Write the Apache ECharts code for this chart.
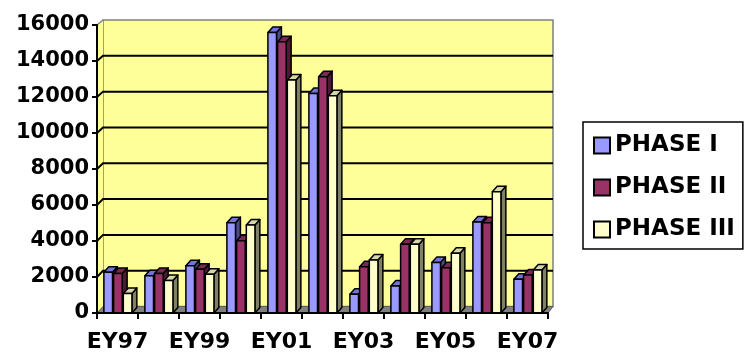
<!DOCTYPE html>
<html>
<head>
<meta charset="utf-8">
<script src="https://cdn.jsdelivr.net/npm/echarts@6/dist/echarts.min.js"></script>
<style>
  html, body { margin: 0; padding: 0; background: #ffffff; }
  #chart { width: 750px; height: 354px; }
</style>
</head>
<body>
<div id="chart"></div>
<script>
// Fiscal years and the three phase totals per year
const years = ['EY97', 'EY98', 'EY99', 'EY00', 'EY01', 'EY02', 'EY03', 'EY04', 'EY05', 'EY06', 'EY07'];
const phase1 = [2260, 2070, 2630, 5020, 15590, 12200, 1040, 1500, 2800, 5050, 1870];
const phase2 = [2200, 2200, 2430, 4020, 15070, 13130, 2570, 3820, 2520, 5020, 2110];
const phase3 = [1090, 1800, 2150, 4890, 12940, 12070, 2940, 3820, 3320, 6740, 2390];
const seriesNames = ['PHASE I', 'PHASE II', 'PHASE III'];
const yTicks = [0, 2000, 4000, 6000, 8000, 10000, 12000, 14000, 16000];

// Box layout: front plane and the receding back wall
const FRONT = { left: 97, top: 25, width: 451, height: 288 };
const DEPTH = { dx: 6, dy: -6.5 };
const BACK = { left: FRONT.left + DEPTH.dx, top: 20, width: 450, height: FRONT.height + FRONT.top + DEPTH.dy - 20 };

const FONT = 'DejaVu Sans';

// face colours: front, top, side
const palette = [
  { front: '#9999FF', top: '#7373D9', side: '#4D4D80' },
  { front: '#993366', top: '#7A2952', side: '#4D1A33' },
  { front: '#FFFFCC', top: '#D6D6AD', side: '#808066' }
];

function renderBar(params, api) {
  const idx = api.value(0);
  const val = api.value(1);
  const base = api.coord([idx, 0]);
  const top = api.coord([idx, val]);
  const band = api.size([1, 0])[0];
  const w = band * 0.21;
  const cx = base[0] + (params.seriesIndex - 1) * band * 0.237 + band * 0.01;
  const x0 = cx - w / 2, x1 = cx + w / 2;
  const dx = band * 0.12, dy = -5.5;
  const c = palette[params.seriesIndex];
  const stroke = { stroke: '#000', lineWidth: 1.5, lineJoin: 'round' };
  return {
    type: 'group',
    children: [
      { type: 'polygon', shape: { points: [[x1, top[1]], [x1 + dx, top[1] + dy], [x1 + dx, base[1] + dy], [x1, base[1]]] },
        style: Object.assign({ fill: c.side }, stroke) },
      { type: 'polygon', shape: { points: [[x0, top[1]], [x0 + dx, top[1] + dy], [x1 + dx, top[1] + dy], [x1, top[1]]] },
        style: Object.assign({ fill: c.top }, stroke) },
      { type: 'rect', shape: { x: x0, y: top[1], width: w, height: base[1] - top[1] },
        style: Object.assign({ fill: c.front }, stroke) }
    ]
  };
}

const seriesData = [phase1, phase2, phase3];

const chart = echarts.init(document.getElementById('chart'));

chart.setOption({
  animation: false,
  backgroundColor: '#ffffff',
  grid: [
    { left: FRONT.left, top: FRONT.top, width: FRONT.width, height: FRONT.height, containLabel: false },
    { left: BACK.left, top: BACK.top, width: BACK.width, height: BACK.height, show: true,
      backgroundColor: '#FFFF99', borderColor: '#808080', borderWidth: 1.5, z: 0 }
  ],
  legend: {
    orient: 'vertical',
    left: 583, top: 122,
    padding: [12, 8, 8, 10],
    borderColor: '#000', borderWidth: 1.5,
    itemWidth: 16, itemHeight: 16, itemGap: 19,
    icon: 'rect',
    itemStyle: { borderColor: '#000', borderWidth: 2 },
    textStyle: { fontFamily: FONT, fontWeight: 'bold', fontSize: 23, color: '#000', lineHeight: 23 },
    data: seriesNames
  },
  xAxis: [
    {
      type: 'category', gridIndex: 0, data: years, z: 5,
      axisLine: { lineStyle: { color: '#000', width: 2 } },
      axisTick: { show: true, interval: 0, length: 6, lineStyle: { color: '#000', width: 2 } },
      axisLabel: { interval: 1, margin: 18, fontFamily: FONT, fontWeight: 'bold', fontSize: 22, color: '#000' }
    },
    { type: 'category', gridIndex: 1, data: years, show: false }
  ],
  yAxis: [
    {
      type: 'value', gridIndex: 0, min: 0, max: 16000, interval: 2000, z: 5,
      axisLine: { show: true, lineStyle: { color: '#000', width: 2 } },
      axisTick: { show: true, length: 5, lineStyle: { color: '#000', width: 2 } },
      splitLine: { show: false },
      axisLabel: { margin: 8, fontFamily: FONT, fontWeight: 'bold', fontSize: 21, color: '#000',
        formatter: v => String(v) }
    },
    {
      type: 'value', gridIndex: 1, min: 0, max: 16000, interval: 2000,
      axisLine: { show: false }, axisTick: { show: false }, axisLabel: { show: false },
      splitLine: { show: false }
    }
  ],
  series: seriesNames.map((name, i) => ({
    name: name,
    type: 'custom',
    xAxisIndex: 0, yAxisIndex: 0,
    z: 3,
    itemStyle: { color: palette[i].front },
    renderItem: renderBar,
    encode: { x: 0, y: 1 },
    data: seriesData[i].map((v, k) => [k, v])
  }))
});

// Left wall, floor and the wall gridlines (back wall plus the slant across the left wall)
const yFront = v => chart.convertToPixel({ yAxisIndex: 0 }, v);
const yBack = v => chart.convertToPixel({ yAxisIndex: 1 }, v);
const fx0 = FRONT.left, fx1 = FRONT.left + FRONT.width;
const bx0 = BACK.left, bx1 = BACK.left + BACK.width;
const graphics = [
  { type: 'polygon', z: 1, shape: { points: [[fx0, yFront(16000)], [bx0, yBack(16000)], [bx0, yBack(0)], [fx0, yFront(0)]] },
    style: { fill: '#FFFF99', stroke: null } },
  { type: 'polyline', z: 1, shape: { points: [[fx0, yFront(16000)], [bx0, yBack(16000)]] },
    style: { stroke: '#808080', lineWidth: 1.5 } }
];
yTicks.slice(1, -1).forEach(v => {
  graphics.push({ type: 'polyline', z: 1, shape: { points: [[fx0, yFront(v)], [bx0, yBack(v)], [bx1, yBack(v)]] },
    style: { stroke: '#000', lineWidth: 2 } });
});
graphics.push({ type: 'polygon', z: 1, shape: { points: [[fx0, yFront(0)], [fx1, yFront(0)], [bx1, yBack(0)], [bx0, yBack(0)]] },
  style: { fill: '#808080', stroke: '#606060', lineWidth: 1 } });
chart.setOption({ graphic: graphics });
</script>
</body>
</html>
